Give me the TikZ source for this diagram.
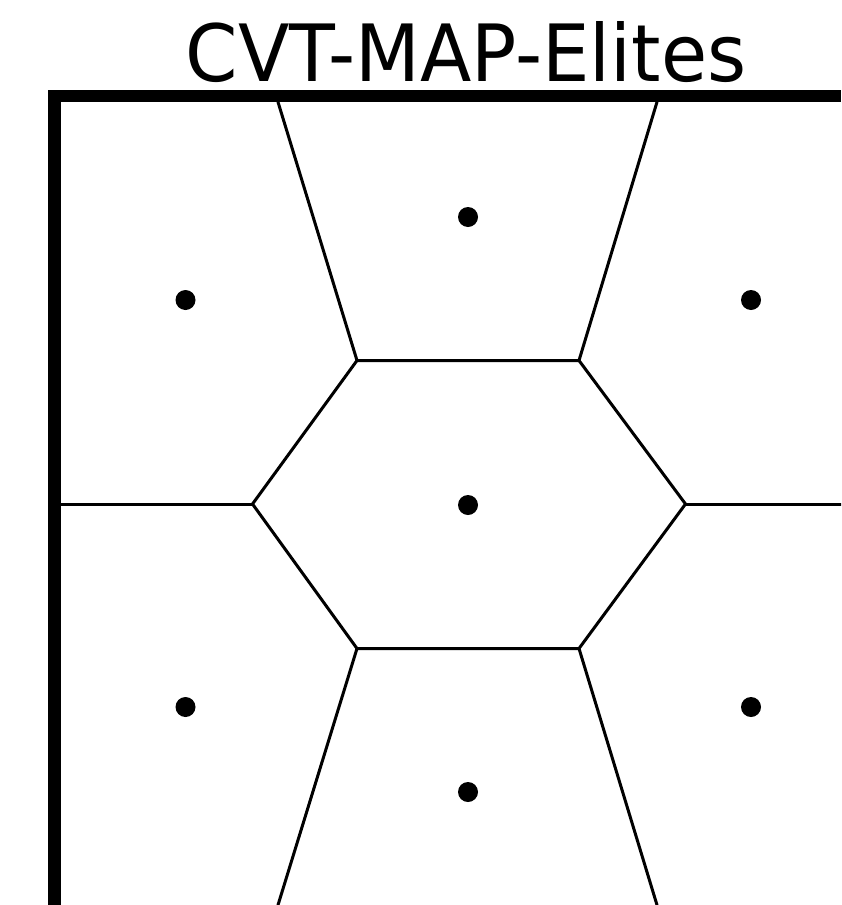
\documentclass[tikz,border=0pt]{standalone}
\usepackage{fontspec}
\setmainfont{DejaVu Sans}
\begin{document}
\begin{tikzpicture}[x=1pt,y=-1pt,
  edge/.style={line width=3pt,line cap=round,line join=round},
  seed/.style={circle,fill=black,inner sep=0pt,minimum size=20pt},
  frame/.style={fill=black}]
\useasboundingbox (0,0) rectangle (841,905);
% title
\node[anchor=base,inner sep=0pt,font=\fontsize{79}{79}\selectfont] (title) at (466,81) {\scalebox{0.95}[1]{CVT-MAP-Elites}};
% frame
\fill[frame] (48,90) rectangle (841,102);
\fill[frame] (48,90) rectangle (61,905);
% vertices
\coordinate (t1) at (278,102);
\coordinate (t2) at (657,102);
\coordinate (a) at (357,360.5);
\coordinate (b) at (579,360.5);
\coordinate (l) at (252.5,504);
\coordinate (r) at (685.5,504);
\coordinate (c) at (357,648.5);
\coordinate (d) at (579,648.5);
\coordinate (lw) at (61,504);
\coordinate (re) at (841,504);
\coordinate (b1) at (278,905);
\coordinate (b2) at (657,905);
\begin{scope}
\clip (61,102) rectangle (841,905);
\draw[edge] (t1) -- (a) -- (b) -- (t2);
\draw[edge] (a) -- (l) -- (c) -- (d) -- (r) -- (b);
\draw[edge] (lw) -- (l);
\draw[edge] (r) -- (re);
\draw[edge] (c) -- (b1);
\draw[edge] (d) -- (b2);
\end{scope}
% seeds
\node[seed] (s1) at (185.5,300) {};
\node[seed] (s2) at (468,217) {};
\node[seed] (s3) at (751,300) {};
\node[seed] (s4) at (468,505) {};
\node[seed] (s5) at (185.5,707) {};
\node[seed] (s6) at (468,792) {};
\node[seed] (s7) at (751,707) {};
\end{tikzpicture}
\end{document}
